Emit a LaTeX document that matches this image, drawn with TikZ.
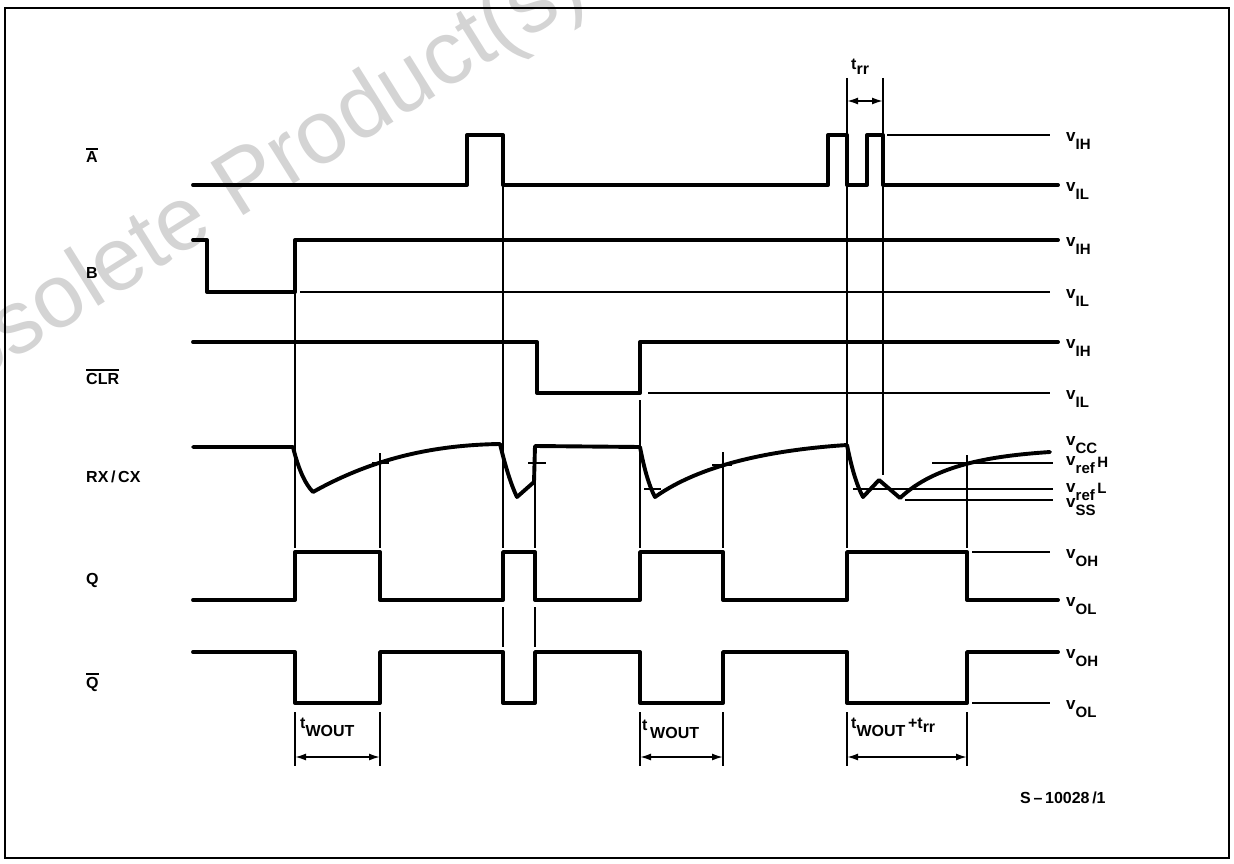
\documentclass[tikz,border=0pt]{standalone}
\usepackage{fontspec}
\setmainfont{Liberation Sans}
\usetikzlibrary{arrows.meta}
\newcommand{\vsubl}[1]{{\fontsize{17}{17}\selectfont v}\raisebox{-8pt}{\fontsize{15}{15}\selectfont #1}}
\newcommand{\ovlbar}[1]{\leavevmode\vbox{\hrule height 1.6pt\kern2pt\hbox{#1}}}
\begin{document}
\begin{tikzpicture}[x=1pt,y=-1pt,
  sig/.style={line width=3.9pt,line join=round,line cap=round},
  thinref/.style={line width=1.7pt},
  dimline/.style={line width=1.7pt,{Latex[length=11pt,width=7pt]}-{Latex[length=11pt,width=7pt]}},
  lab/.style={anchor=base west,inner sep=0pt,font=\fontsize{16}{16}\selectfont\bfseries},
  rlab/.style={anchor=base west,inner sep=0pt,font=\fontsize{15}{15}\selectfont\bfseries},
  tlab/.style={anchor=base west,inner sep=0pt,font=\fontsize{16}{16}\selectfont\bfseries},
  wm/.style={text=black!17,font=\fontsize{90}{90}\selectfont,rotate=32,inner sep=0pt}
]
\useasboundingbox (0,0) rectangle (1234,864);
% watermark
\node[wm] (wm) at (238,192) {Obsolete Product(s)};
% frame
\draw[line width=2pt] (5,8) rectangle (1229,858);

% ---------- A bar ----------
\draw[sig] (193,185) -- (467,185) -- (467,135) -- (503,135) -- (503,185) -- (828,185)
  -- (828,135) -- (847,135) -- (847,185) -- (867,185) -- (867,135) -- (883,135) -- (883,185) -- (1058,185);
\draw[thinref] (887,135) -- (1050,135);

% ---------- B ----------
\draw[sig] (193,240) -- (207,240) -- (207,292) -- (295,292) -- (295,240) -- (1058,240);
\draw[thinref] (300,292) -- (1050,292);

% ---------- CLR bar ----------
\draw[sig] (193,342) -- (537,342) -- (537,393) -- (640,393) -- (640,342) -- (1058,342);
\draw[thinref] (648,393) -- (1050,393);

% ---------- RX/CX ----------
\draw[sig] (193,447) -- (293,447) .. controls (298,468) and (305,484) .. (313,492)
  .. controls (370,460) and (430,445) .. (500,444)
  .. controls (505,465) and (511,485) .. (517,497) -- (534,482) -- (535,446) -- (640,447)
  .. controls (644,468) and (649,486) .. (655,497)
  .. controls (700,465) and (770,450) .. (847,445)
  .. controls (851,465) and (856,484) .. (863,497) -- (879,480) -- (900,498)
  .. controls (935,465) and (990,456) .. (1050,452);
\draw[thinref] (932,463) -- (1053,463);
\draw[thinref] (853,489) -- (1053,489);
\draw[thinref] (905,500) -- (1053,500);
% ticks
\draw[thinref] (372,463) -- (389,463);
\draw[thinref] (528,463) -- (546,463);
\draw[thinref] (712,465) -- (732,465);
\draw[thinref] (644,489) -- (661,489);

% ---------- Q ----------
\draw[sig] (193,600) -- (295,600) -- (295,552) -- (380,552) -- (380,600) -- (503,600) -- (503,552)
  -- (535,552) -- (535,600) -- (640,600) -- (640,552) -- (723,552) -- (723,600) -- (847,600)
  -- (847,552) -- (967,552) -- (967,600) -- (1058,600);
\draw[thinref] (972,552) -- (1050,552);

% ---------- Q bar ----------
\draw[sig] (193,652) -- (295,652) -- (295,703) -- (380,703) -- (380,652) -- (503,652) -- (503,703)
  -- (535,703) -- (535,652) -- (640,652) -- (640,703) -- (723,703) -- (723,652) -- (847,652)
  -- (847,703) -- (967,703) -- (967,652) -- (1058,652);
\draw[thinref] (972,703) -- (1050,703);

% ---------- vertical timing lines ----------
\draw[thinref] (295,292) -- (295,548);
\draw[thinref] (380,453) -- (380,548);
\draw[thinref] (503,185) -- (503,548);
\draw[thinref] (535,482) -- (535,548);
\draw[thinref] (640,400) -- (640,548);
\draw[thinref] (723,452) -- (723,548);
\draw[thinref] (847,78) -- (847,548);
\draw[thinref] (883,78) -- (883,475);
\draw[thinref] (967,455) -- (967,548);
\draw[thinref] (503,607) -- (503,647);
\draw[thinref] (535,607) -- (535,647);

% ---------- dimensions ----------
\draw[thinref] (295,712) -- (295,766);
\draw[thinref] (380,712) -- (380,766);
\draw[thinref] (640,712) -- (640,766);
\draw[thinref] (723,712) -- (723,766);
\draw[thinref] (847,712) -- (847,766);
\draw[thinref] (967,712) -- (967,766);
\draw[dimline] (295,757) -- (380,757);
\draw[dimline] (640,757) -- (723,757);
\draw[dimline] (847,757) -- (967,757);
\draw[dimline] (847,101) -- (883,101);

% ---------- left labels ----------
\node[lab] (la) at (86,163) {\ovlbar{A}};
\node[lab] (lb) at (86,278) {B};
\node[lab] (lclr) at (86,384) {\ovlbar{CLR}};
\node[lab] (lrx) at (86,482) {RX\,/\,CX};
\node[lab] (lq) at (86,584) {Q};
\node[lab] (lqb) at (86,688) {\ovlbar{Q}};

% ---------- right labels ----------
\node[rlab] (aih) at (1066,142) {\vsubl{IH}};
\node[rlab] (ail) at (1066,191) {\vsubl{IL}};
\node[rlab] (bih) at (1066,246) {\vsubl{IH}};
\node[rlab] (bil) at (1066,298) {\vsubl{IL}};
\node[rlab] (cih) at (1066,348) {\vsubl{IH}};
\node[rlab] (cil) at (1066,399) {\vsubl{IL}};
\node[rlab] (vcc) at (1066,445) {\vsubl{CC}};
\node[rlab] (vrh) at (1066,465) {\vsubl{ref}\,\raisebox{-2pt}{H}};
\node[rlab] (vrl) at (1066,492) {\vsubl{ref}\,\raisebox{-1pt}{L}};
\node[rlab] (vss) at (1066,507) {\vsubl{SS}};
\node[rlab] (qoh) at (1066,558) {\vsubl{OH}};
\node[rlab] (qol) at (1066,606) {\vsubl{OL}};
\node[rlab] (qboh) at (1066,658) {\vsubl{OH}};
\node[rlab] (qbol) at (1066,709) {\vsubl{OL}};

% ---------- timing labels ----------
\node[tlab] (tw1) at (300,728) {t\raisebox{-8pt}{WOUT}};
\node[tlab] (tw2) at (642,730) {t\,\raisebox{-8pt}{WOUT}};
\node[tlab] (tw3) at (851,728) {t\raisebox{-8pt}{WOUT}\,+t\raisebox{-4pt}{rr}};
\node[tlab] (trr) at (851,70) {t\raisebox{-5pt}{rr}};
\node[anchor=base west,inner sep=0pt,font=\fontsize{16}{16}\selectfont\bfseries] (code) at (1020,803) {S\,–\,10028\,/1};
\end{tikzpicture}
\end{document}
